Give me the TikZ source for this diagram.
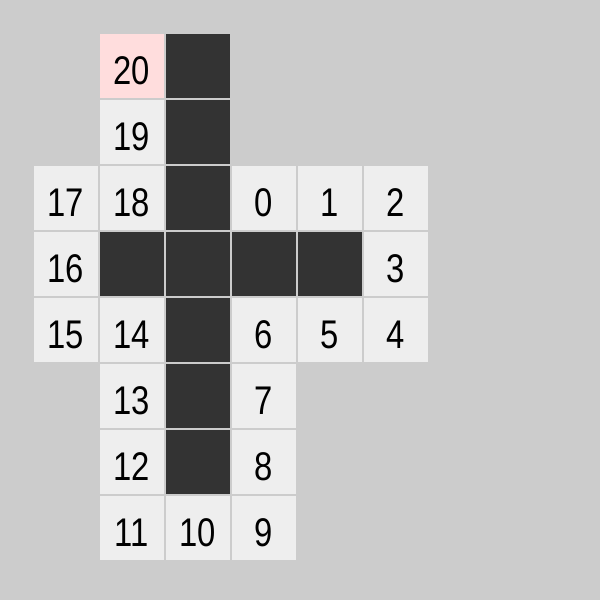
\documentclass[tikz,border=0pt]{standalone}
\usepackage{fontspec}
\setmainfont{Liberation Sans}
\begin{document}
\begin{tikzpicture}[x=1pt,y=-1pt,
  cellbase/.style={minimum width=64pt,minimum height=64pt,inner sep=0pt,outer sep=0pt,anchor=north west,
    font=\fontsize{40}{40}\selectfont,text height=36.6pt,text depth=0pt},
  lite/.style={cellbase,fill=lite},
  dark/.style={cellbase,fill=darkc},
  pink/.style={cellbase,fill=pinkc}]
\definecolor{bg}{HTML}{CCCCCC}
\definecolor{lite}{HTML}{EEEEEE}
\definecolor{darkc}{HTML}{333333}
\definecolor{pinkc}{HTML}{FFDDDD}
\fill[bg] (0,0) rectangle (600,600);
\useasboundingbox (0,0) rectangle (600,600);
\newcommand{\cell}[4]{\node[#3] (c#1#2) at ({34+66*#1},{34+66*#2}) {\scalebox{0.82}[1]{#4}};}
% row 0
\cell{1}{0}{pink}{20}
\cell{2}{0}{dark}{}
% row 1
\cell{1}{1}{lite}{19}
\cell{2}{1}{dark}{}
% row 2
\cell{0}{2}{lite}{17}
\cell{1}{2}{lite}{18}
\cell{2}{2}{dark}{}
\cell{3}{2}{lite}{0}
\cell{4}{2}{lite}{1}
\cell{5}{2}{lite}{2}
% row 3
\cell{0}{3}{lite}{16}
\cell{1}{3}{dark}{}
\cell{2}{3}{dark}{}
\cell{3}{3}{dark}{}
\cell{4}{3}{dark}{}
\cell{5}{3}{lite}{3}
% row 4
\cell{0}{4}{lite}{15}
\cell{1}{4}{lite}{14}
\cell{2}{4}{dark}{}
\cell{3}{4}{lite}{6}
\cell{4}{4}{lite}{5}
\cell{5}{4}{lite}{4}
% row 5
\cell{1}{5}{lite}{13}
\cell{2}{5}{dark}{}
\cell{3}{5}{lite}{7}
% row 6
\cell{1}{6}{lite}{12}
\cell{2}{6}{dark}{}
\cell{3}{6}{lite}{8}
% row 7
\cell{1}{7}{lite}{11}
\cell{2}{7}{lite}{10}
\cell{3}{7}{lite}{9}
\end{tikzpicture}
\end{document}
